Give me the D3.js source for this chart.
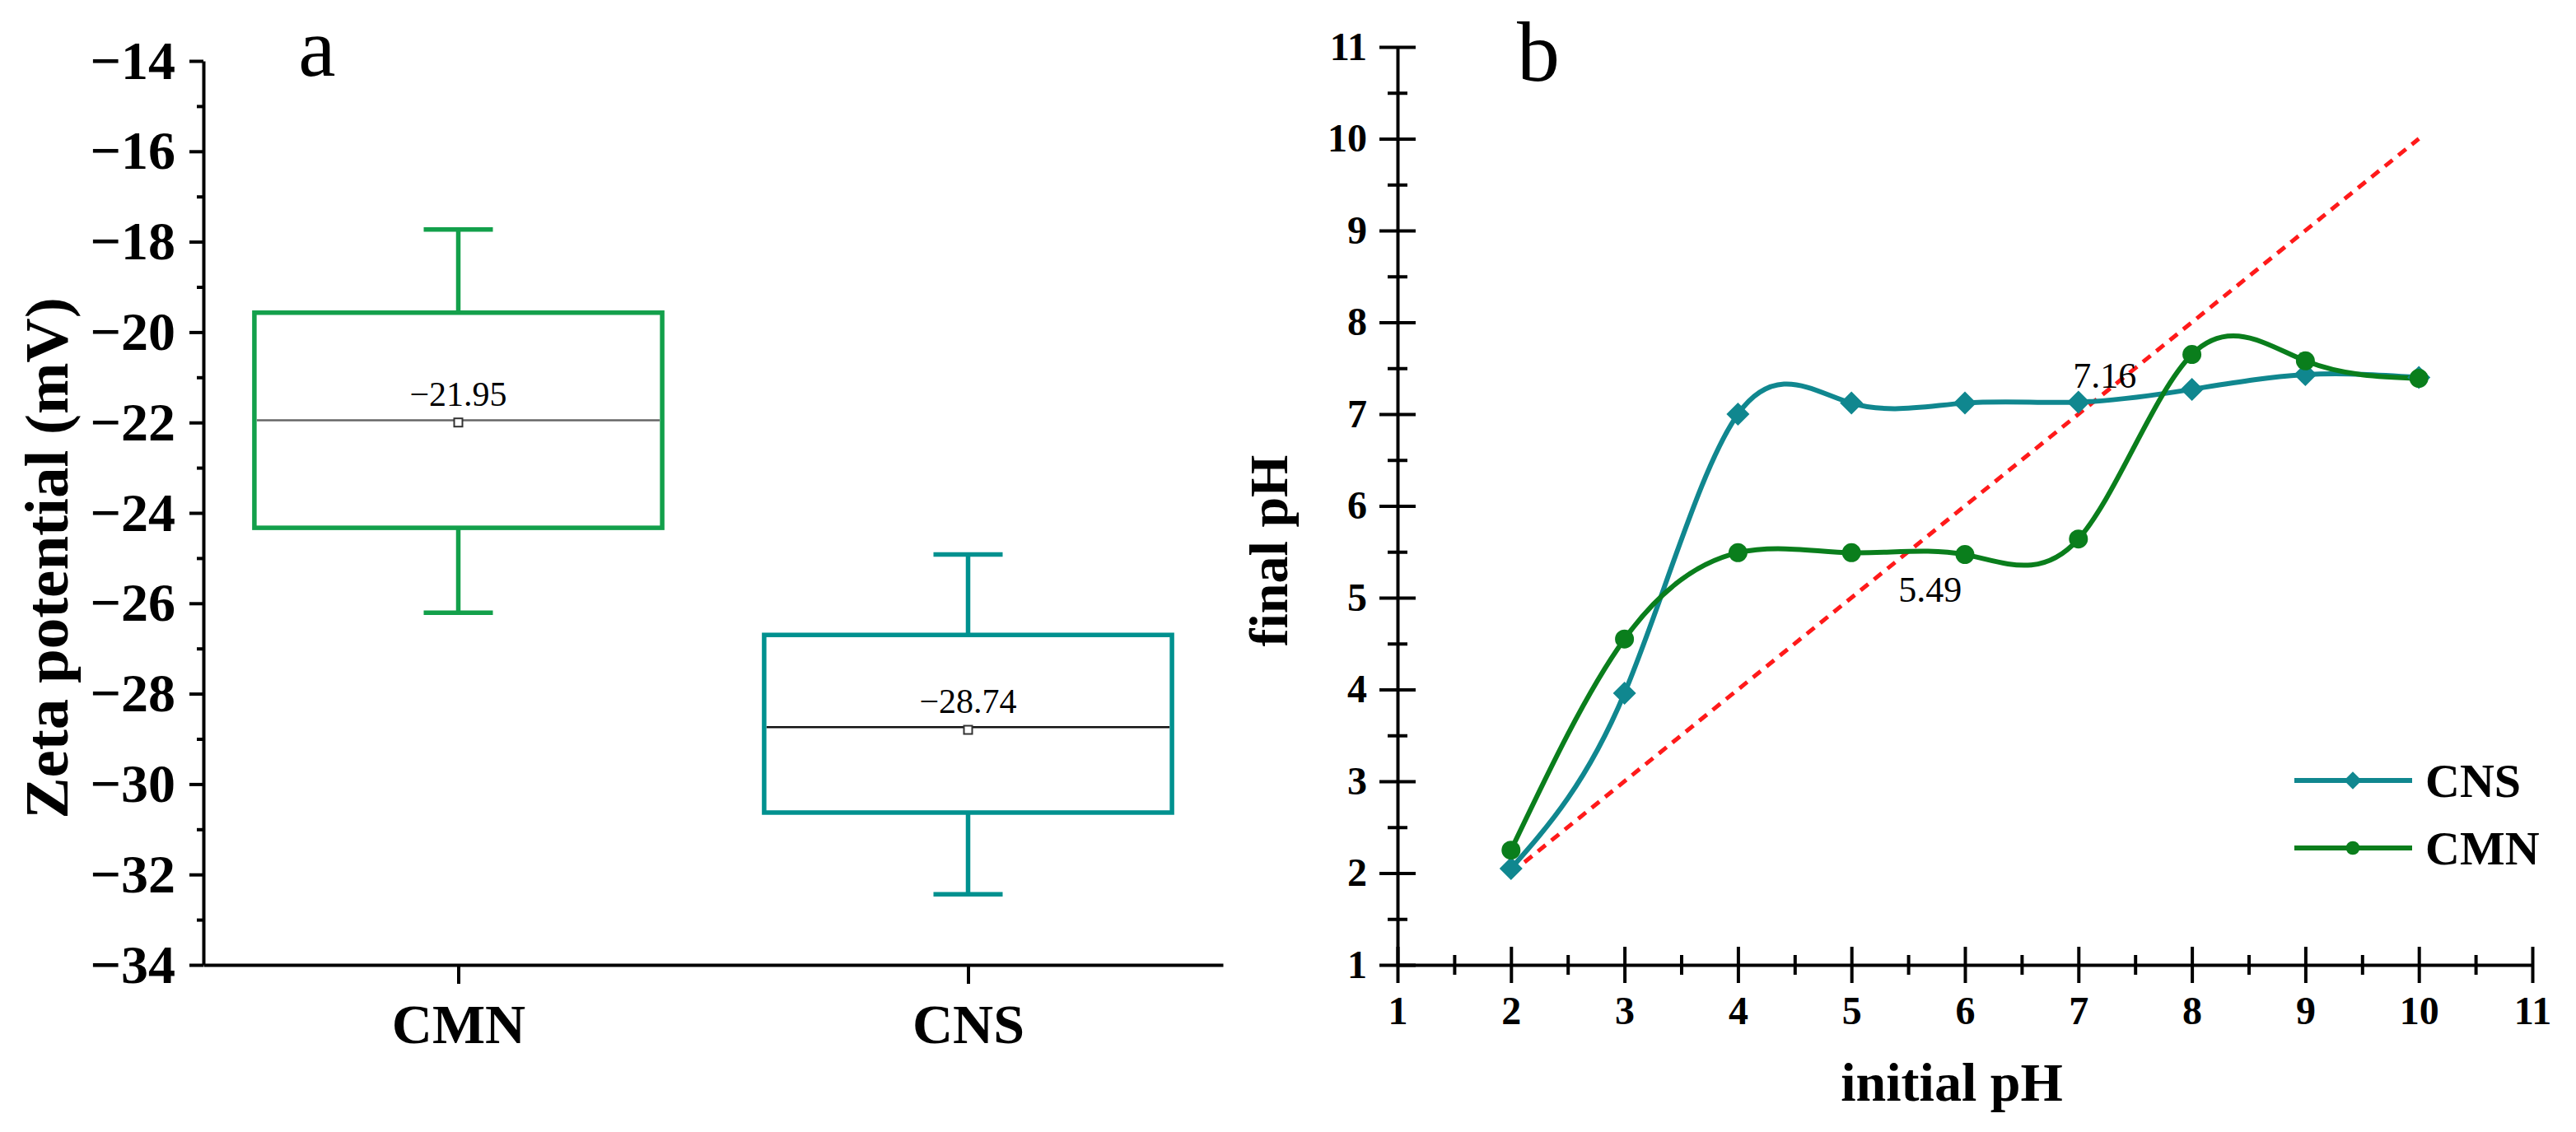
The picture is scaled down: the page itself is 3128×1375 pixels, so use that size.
<!DOCTYPE html>
<html>
<head>
<meta charset="utf-8">
<script src="https://cdn.jsdelivr.net/npm/d3@7"></script>
<style>
    body { margin: 0; background: #fff; }
    svg text { font-family: "Liberation Serif", "Times New Roman", serif; fill: #000; }
    .axis path, .axis line { stroke: #000; stroke-width: 4; }
    .axis text { font-weight: bold; }
</style>
</head>
<body>
<svg id="fig" width="3128" height="1375"></svg>
<script>
// panel a - zeta potential box plot
const samples = ["CMN", "CNS"];
const whiskerLow = [-26.21, -32.44];
const boxLow = [-24.33, -30.63];
const medians = [-21.95, -28.74];
const means = [-22.0, -28.8];
const boxHigh = [-19.57, -26.7];
const whiskerHigh = [-17.73, -24.92];
const zetaTicks = [-14, -16, -18, -20, -22, -24, -26, -28, -30, -32, -34];
const zetaMinor = [-15, -17, -19, -21, -23, -25, -27, -29, -31, -33];

// panel b - final pH vs initial pH
const initialPH = [2, 3, 4, 5, 6, 7, 8, 9, 10];
const finalCNS = [2.05, 3.96, 7.0, 7.12, 7.12, 7.13, 7.27, 7.43, 7.4];
const finalCMN = [2.25, 4.55, 5.49, 5.49, 5.47, 5.64, 7.65, 7.58, 7.39];
const diagonal = [2, 10];
const pzcValues = [7.16, 5.49];
const phTicks = [1, 2, 3, 4, 5, 6, 7, 8, 9, 10, 11];
const phMinor = [1.5, 2.5, 3.5, 4.5, 5.5, 6.5, 7.5, 8.5, 9.5, 10.5];

const boxColors = { CMN: "#13a04b", CNS: "#00918f" };
const medianColors = { CMN: "#666", CNS: "#111" };
const lineColors = { CNS: "#10878f", CMN: "#0a7e1c" };

var svg = d3.select("#fig");

/* ---------- panel a ---------- */
var xA = d3.scalePoint()
    .domain(samples)
    .range([247, 1485])
    .padding(0.5);

var yA = d3.scaleLinear()
    .domain([-34, -14])
    .range([1172, 74]);

var gA = svg.append("g");

gA.append("g")
    .attr("class", "axis")
    .attr("transform", "translate(247,0)")
    .call(d3.axisLeft(yA).tickValues(zetaTicks).tickSize(17).tickSizeOuter(0).tickPadding(17))
    .selectAll("text").style("font-size", "66px");

gA.append("g")
    .attr("class", "axis")
    .attr("transform", "translate(247,0)")
    .call(d3.axisLeft(yA).tickValues(zetaMinor).tickSize(8).tickFormat(""))
    .select(".domain").remove();

gA.append("g")
    .attr("class", "axis")
    .attr("transform", "translate(0," + yA(-34) + ")")
    .call(d3.axisBottom(xA).tickSize(23).tickSizeOuter(0).tickPadding(24))
    .selectAll("text").style("font-size", "68px");

gA.append("text")
    .attr("transform", "translate(82,678) rotate(-90)")
    .attr("text-anchor", "middle")
    .style("font-size", "75px")
    .style("font-weight", "bold")
    .text("Zeta potential (mV)");

gA.append("text")
    .attr("x", 385)
    .attr("y", 92)
    .attr("text-anchor", "middle")
    .style("font-size", "102px")
    .text("a");

var boxW = xA.step() * 0.8;
var capW = 84;

samples.forEach(function (s, i) {
    var cx = xA(s);
    var col = boxColors[s];
    var g = gA.append("g");

    // whiskers
    g.append("line")
        .attr("x1", cx).attr("x2", cx)
        .attr("y1", yA(boxHigh[i])).attr("y2", yA(whiskerHigh[i]))
        .attr("stroke", col).attr("stroke-width", 5.5);
    g.append("line")
        .attr("x1", cx).attr("x2", cx)
        .attr("y1", yA(boxLow[i])).attr("y2", yA(whiskerLow[i]))
        .attr("stroke", col).attr("stroke-width", 5.5);
    [whiskerHigh[i], whiskerLow[i]].forEach(function (v) {
        g.append("line")
            .attr("x1", cx - capW / 2).attr("x2", cx + capW / 2)
            .attr("y1", yA(v)).attr("y2", yA(v))
            .attr("stroke", col).attr("stroke-width", 5.5);
    });

    g.append("rect")
        .attr("x", cx - boxW / 2)
        .attr("y", yA(boxHigh[i]))
        .attr("width", boxW)
        .attr("height", yA(boxLow[i]) - yA(boxHigh[i]))
        .attr("fill", "none")
        .attr("stroke", col)
        .attr("stroke-width", 5.5);

    g.append("line")
        .attr("x1", cx - boxW / 2 + 3).attr("x2", cx + boxW / 2 - 3)
        .attr("y1", yA(medians[i])).attr("y2", yA(medians[i]))
        .attr("stroke", medianColors[s]).attr("stroke-width", 2.5);

    // mean marker
    g.append("rect")
        .attr("x", cx - 5).attr("y", yA(means[i]) - 5)
        .attr("width", 10).attr("height", 10)
        .attr("fill", "#fff").attr("stroke", "#333").attr("stroke-width", 2);

    g.append("text")
        .attr("x", cx)
        .attr("y", yA(medians[i]) - 17)
        .attr("text-anchor", "middle")
        .style("font-size", "42px")
        .text(d3.format(".2f")(medians[i]));
});

/* ---------- panel b ---------- */
var xB = d3.scaleLinear()
    .domain([1, 11])
    .range([1697, 3075]);

var yB = d3.scaleLinear()
    .domain([1, 11])
    .range([1172, 57]);

var gB = svg.append("g");

// ticks cross the axis line
var yAxisB = gB.append("g")
    .attr("class", "axis")
    .attr("transform", "translate(" + xB(1) + ",0)")
    .call(d3.axisLeft(yB).tickValues(phTicks).tickSize(22).tickSizeOuter(0).tickPadding(15));
yAxisB.selectAll(".tick line").attr("x1", 22);
yAxisB.selectAll("text").style("font-size", "48px");

var yMinorB = gB.append("g")
    .attr("class", "axis")
    .attr("transform", "translate(" + xB(1) + ",0)")
    .call(d3.axisLeft(yB).tickValues(phMinor).tickSize(12).tickFormat(""));
yMinorB.select(".domain").remove();
yMinorB.selectAll(".tick line").attr("x1", 12);

var xAxisB = gB.append("g")
    .attr("class", "axis")
    .attr("transform", "translate(0," + yB(1) + ")")
    .call(d3.axisBottom(xB).tickValues(phTicks).tickSize(22).tickSizeOuter(0).tickPadding(16));
xAxisB.selectAll(".tick line").attr("y1", -22);
xAxisB.selectAll("text").style("font-size", "48px");

var xMinorB = gB.append("g")
    .attr("class", "axis")
    .attr("transform", "translate(0," + yB(1) + ")")
    .call(d3.axisBottom(xB).tickValues(phMinor).tickSize(12).tickFormat(""));
xMinorB.select(".domain").remove();
xMinorB.selectAll(".tick line").attr("y1", -12);

gB.append("text")
    .attr("transform", "translate(1563,669) rotate(-90)")
    .attr("text-anchor", "middle")
    .style("font-size", "66px")
    .style("font-weight", "bold")
    .text("final pH");

gB.append("text")
    .attr("x", 2370)
    .attr("y", 1337)
    .attr("text-anchor", "middle")
    .style("font-size", "66px")
    .style("font-weight", "bold")
    .text("initial pH");

gB.append("text")
    .attr("x", 1868)
    .attr("y", 98)
    .attr("text-anchor", "middle")
    .style("font-size", "104px")
    .text("b");

// y = x reference line
gB.append("line")
    .attr("x1", xB(diagonal[0])).attr("y1", yB(diagonal[0]))
    .attr("x2", xB(diagonal[1])).attr("y2", yB(diagonal[1]))
    .attr("stroke", "#ff1a1a")
    .attr("stroke-width", 5)
    .attr("stroke-dasharray", "12 9");

var spline = d3.line()
    .curve(d3.curveNatural)
    .x(function (d) { return xB(d[0]) })
    .y(function (d) { return yB(d[1]) });

var cnsPts = initialPH.map(function (x, i) { return [x, finalCNS[i]] });
var cmnPts = initialPH.map(function (x, i) { return [x, finalCMN[i]] });

gB.append("path")
    .datum(cnsPts)
    .attr("fill", "none")
    .attr("stroke", lineColors.CNS)
    .attr("stroke-width", 6)
    .attr("d", spline);

gB.append("path")
    .datum(cmnPts)
    .attr("fill", "none")
    .attr("stroke", lineColors.CMN)
    .attr("stroke-width", 6)
    .attr("d", spline);

var diamond = d3.symbol().type(d3.symbolSquare).size(392);
var circle = d3.symbol().type(d3.symbolCircle).size(415);

gB.selectAll(".pt-cns")
    .data(cnsPts)
    .enter().append("path")
    .attr("class", "pt-cns")
    .attr("d", diamond)
    .attr("fill", lineColors.CNS)
    .attr("transform", function (d) { return "translate(" + xB(d[0]) + "," + yB(d[1]) + ") rotate(45)" });

gB.selectAll(".pt-cmn")
    .data(cmnPts)
    .enter().append("path")
    .attr("class", "pt-cmn")
    .attr("d", circle)
    .attr("fill", lineColors.CMN)
    .attr("transform", function (d) { return "translate(" + xB(d[0]) + "," + yB(d[1]) + ")" });

// crossing values with the y = x line
gB.append("text")
    .attr("x", xB(pzcValues[0]) + 10)
    .attr("y", yB(pzcValues[0]) - 14)
    .attr("text-anchor", "middle")
    .style("font-size", "44px")
    .text(pzcValues[0].toFixed(2));

gB.append("text")
    .attr("x", xB(pzcValues[1]) + 28)
    .attr("y", yB(pzcValues[1]) + 60)
    .attr("text-anchor", "middle")
    .style("font-size", "44px")
    .text(pzcValues[1].toFixed(2));

// legend
var legend = gB.append("g");
var legendItems = [
    { name: "CNS", y: 948, sym: d3.symbol().type(d3.symbolSquare).size(230), rot: 45 },
    { name: "CMN", y: 1030, sym: d3.symbol().type(d3.symbolCircle).size(220), rot: 0 }
];
legendItems.forEach(function (d) {
    legend.append("line")
        .attr("x1", 2786).attr("x2", 2929)
        .attr("y1", d.y).attr("y2", d.y)
        .attr("stroke", lineColors[d.name])
        .attr("stroke-width", 6);
    legend.append("path")
        .attr("d", d.sym)
        .attr("fill", lineColors[d.name])
        .attr("transform", "translate(2857," + d.y + ") rotate(" + d.rot + ")");
    legend.append("text")
        .attr("x", 2945)
        .attr("y", d.y + 20)
        .style("font-size", "58px")
        .style("font-weight", "bold")
        .text(d.name);
});
</script>
</body>
</html>
